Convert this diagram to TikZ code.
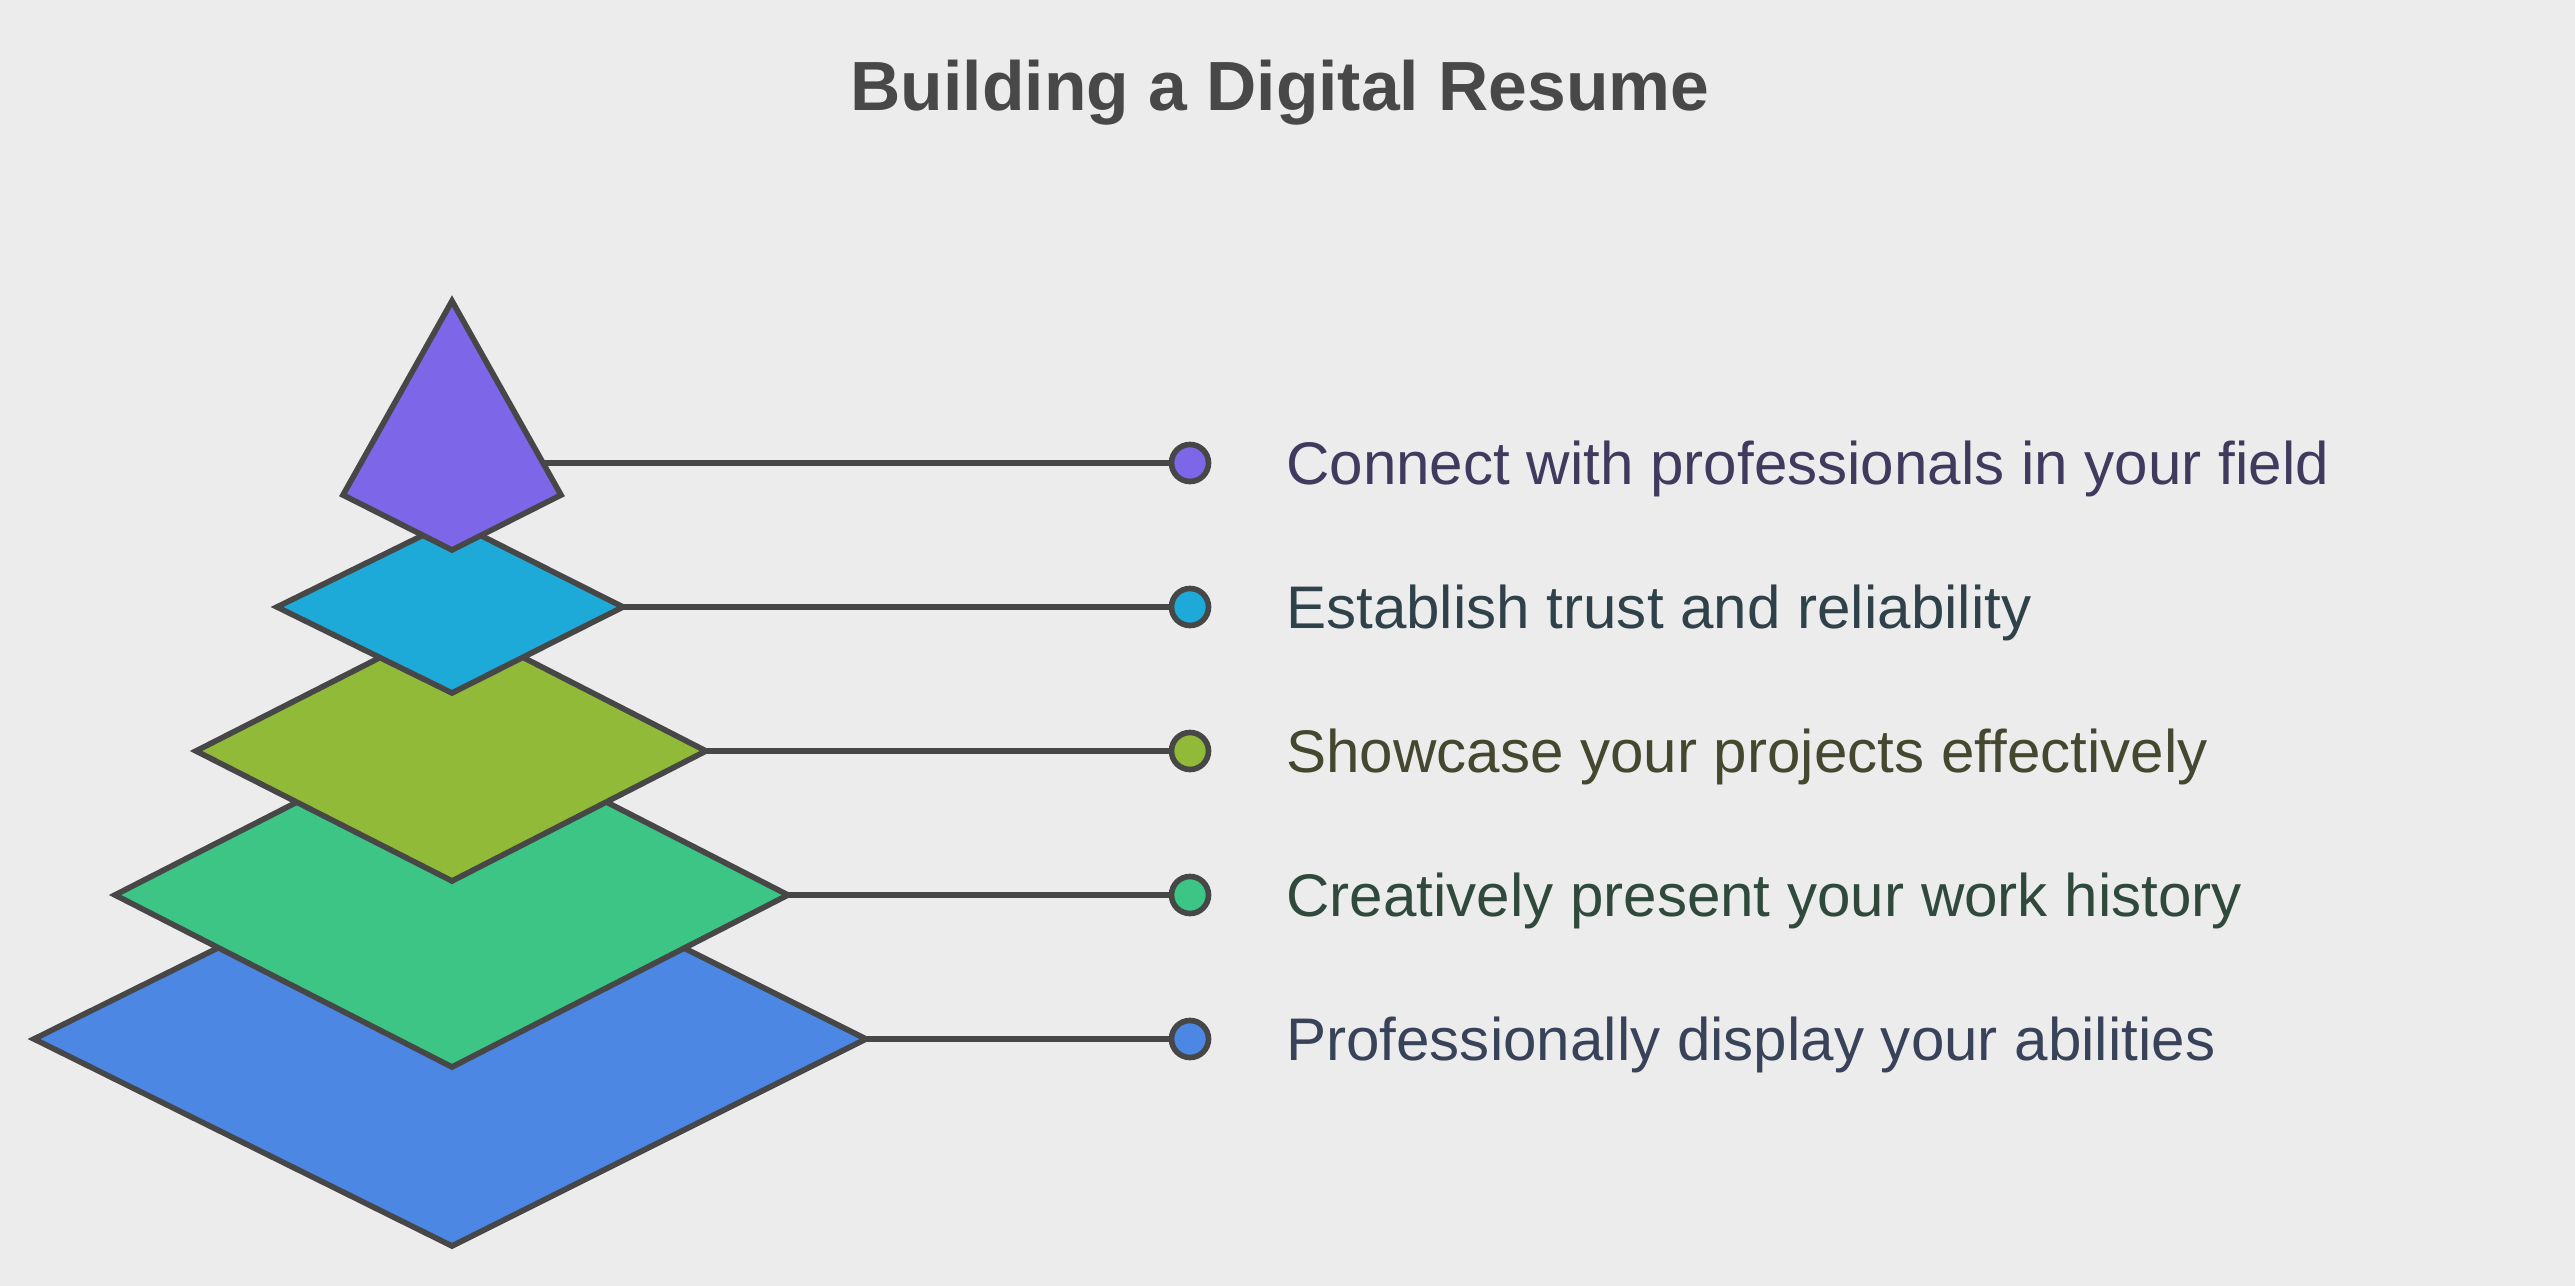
\documentclass[tikz,border=0pt]{standalone}
\usepackage{fontspec}
\setmainfont{Liberation Sans}
\usetikzlibrary{positioning}
\definecolor{bgc}{HTML}{ECECEC}
\definecolor{edgec}{HTML}{474747}
\definecolor{ttlc}{HTML}{484848}
\definecolor{purc}{HTML}{7D66E8}
\definecolor{cyac}{HTML}{1EAAD8}
\definecolor{limc}{HTML}{91BA38}
\definecolor{grnc}{HTML}{3DC585}
\definecolor{bluc}{HTML}{4C87E3}
\definecolor{purt}{HTML}{403A5E}
\definecolor{cyat}{HTML}{2F424A}
\definecolor{limt}{HTML}{45472F}
\definecolor{grnt}{HTML}{2F4A3C}
\definecolor{blut}{HTML}{38435A}

\begin{document}
\begin{tikzpicture}[x=0.01cm, y=-0.01cm, line width=1.6pt,
	layer/.style={draw=edgec},
	conn/.style={draw=edgec},
	dot/.style={circle, draw=edgec, minimum size=0.37cm, inner sep=0pt},
	lbl/.style={inner sep=0pt, font=\fontsize{17.1}{20}\selectfont, text height=15pt, text depth=3pt},
	ttl/.style={font=\bfseries\fontsize{19.8}{24}\selectfont, text=ttlc, anchor=base}]
	 \fill[bgc] (0,0) rectangle (2575,1286);
	 \node[ttl] (title) at (1280,111) {Building a Digital Resume};

	 % pyramid, bottom layer first
	 \draw[layer, fill=bluc] (34,1039) -- (452,832) -- (866,1039) coordinate (blur) -- (452,1246) -- cycle;
	 \draw[layer, fill=grnc] (115,895) -- (452,723) -- (788,895) coordinate (grnr) -- (452,1067) -- cycle;
	 \draw[layer, fill=limc] (196,751) -- (452,621) -- (706,751) coordinate (limr) -- (452,881) -- cycle;
	 \draw[layer, fill=cyac] (277,607) -- (452,521) -- (623,607) coordinate (cyar) -- (452,693) -- cycle;
	 \draw[layer, fill=purc] (343,495) -- (452,301) -- (561,495) -- (452,550) -- cycle;
	 \coordinate (purr) at (543,463);

	 % dots
	 \node[dot, fill=purc] (purdot) at (1190,463) {};
	 \node[dot, fill=cyac] (cyadot) at (1190,607) {};
	 \node[dot, fill=limc] (limdot) at (1190,751) {};
	 \node[dot, fill=grnc] (grndot) at (1190,895) {};
	 \node[dot, fill=bluc] (bludot) at (1190,1039) {};

	 \draw[conn] (purr) -- (purdot);
	 \draw[conn] (cyar) -- (cyadot);
	 \draw[conn] (limr) -- (limdot);
	 \draw[conn] (grnr) -- (grndot);
	 \draw[conn] (blur) -- (bludot);

	 % labels
	 \node[lbl, text=purt, right=0.72cm of purdot] (purlab) {Connect with professionals in your field};
	 \node[lbl, text=cyat, right=0.72cm of cyadot] (cyalab) {Establish trust and reliability};
	 \node[lbl, text=limt, right=0.72cm of limdot] (limlab) {Showcase your projects effectively};
	 \node[lbl, text=grnt, right=0.72cm of grndot] (grnlab) {Creatively present your work history};
	 \node[lbl, text=blut, right=0.72cm of bludot] (blulab) {Professionally display your abilities};
\end{tikzpicture}
\end{document}
